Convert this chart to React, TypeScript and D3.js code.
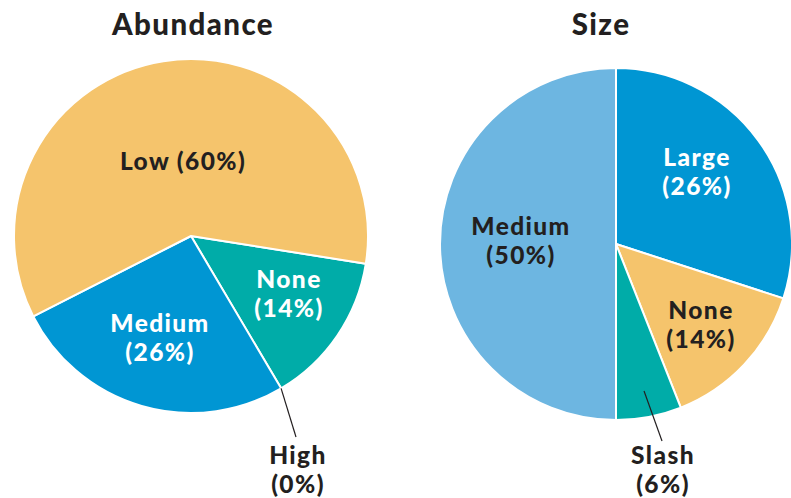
import React from "react";
import * as d3 from "d3";

// ---- data ----
const abundanceCategories = ["None", "High", "Medium", "Low"];
const abundanceValues = [14, 0, 26, 60];
const abundanceLabels = ["(14%)", "(0%)", "(26%)", "(60%)"];

const sizeCategories = ["Large", "None", "Slash", "Medium"];
const sizeValues = [30, 14, 6, 50];
const sizeLabels = ["(26%)", "(14%)", "(6%)", "(50%)"];

const titles = ["Abundance", "Size"];

// ---- styles ----
const YELLOW = "#F5C46C";
const BLUE = "#0096D3";
const TEAL = "#00ACA8";
const LIGHTBLUE = "#6DB6E1";
const DARK = "#231F20";

const abundanceColors = [TEAL, BLUE, BLUE, YELLOW];
const abundanceText = ["#fff", DARK, "#fff", DARK];
const sizeColors = [BLUE, YELLOW, TEAL, LIGHTBLUE];
const sizeText = ["#fff", DARK, DARK, DARK];

const FONT = "Lato, 'Open Sans', sans-serif";
const LABEL_SIZE = 24.5;
const LINE_GAP = 29;
const LETTER = 1.4;

type LabelCfg = {
  pos: [number, number]; // first-line baseline, relative to pie centre
  oneLine?: boolean;
  leader?: { from: number; to: [number, number] };
};

function Pie(props: {
  cx: number; cy: number; r: number; startDeg: number;
  cats: string[]; values: number[]; pct: string[];
  colors: string[]; textColors: string[]; cfg: LabelCfg[];
}) {
  const { cx, cy, r, startDeg, cats, values, pct, colors, textColors, cfg } = props;
  const start = (startDeg * Math.PI) / 180;
  const pie = d3.pie<number>().sort(null).value((d) => d)
    .startAngle(start).endAngle(start + 2 * Math.PI);
  const arcs = pie(values);
  const arc = d3.arc<d3.PieArcDatum<number>>().innerRadius(0).outerRadius(r);
  return (
    <g transform={`translate(${cx},${cy})`}>
      {arcs.map((a, i) =>
        a.endAngle > a.startAngle ? (
          <path key={i} d={arc(a) || ""} fill={colors[i]} stroke="#fff" strokeWidth={2} strokeLinejoin="round" />
        ) : null
      )}
      {arcs.map((a, i) => {
        const c = cfg[i];
        const mid = (a.startAngle + a.endAngle) / 2;
        const [x, y] = c.pos;
        const fill = c.leader ? DARK : textColors[i];
        return (
          <g key={"l" + i}>
            {c.leader ? (
              <line x1={Math.sin(mid) * r * c.leader.from} y1={-Math.cos(mid) * r * c.leader.from}
                x2={c.leader.to[0]} y2={c.leader.to[1]} stroke={DARK} strokeWidth={1.2} />
            ) : null}
            {c.oneLine ? (
              <text x={x} y={y} textAnchor="middle" fill={fill} fontFamily={FONT} fontWeight={900}
                fontSize={LABEL_SIZE} letterSpacing={LETTER}>
                {cats[i] + " " + pct[i]}
              </text>
            ) : (
              <text x={x} y={y} textAnchor="middle" fill={fill} fontFamily={FONT} fontWeight={900}
                fontSize={LABEL_SIZE} letterSpacing={LETTER}>
                <tspan x={x} dy={0}>{cats[i]}</tspan>
                <tspan x={x} dy={LINE_GAP}>{pct[i]}</tspan>
              </text>
            )}
          </g>
        );
      })}
    </g>
  );
}

export default function App() {
  const W = 791, H = 498;
  const leftCx = 191, leftCy = 236, leftR = 177;
  const rightCx = 616, rightCy = 244, rightR = 176;
  // start angles (degrees clockwise from 12 o'clock)
  const leftStart = 99;
  const rightStart = 0;

  const leftCfg: LabelCfg[] = [
    { pos: [98, 52] },
    { pos: [107, 228], leader: { from: 1, to: [105, 201] } },
    { pos: [-31, 96] },
    { pos: [-8, -66], oneLine: true },
  ];
  const rightCfg: LabelCfg[] = [
    { pos: [81, -78] },
    { pos: [85, 75] },
    { pos: [47, 220], leader: { from: 0.85, to: [46, 197] } },
    { pos: [-95, -9] },
  ];

  return (
    <svg width={W} height={H} style={{ position: "absolute", left: 0, top: 0, background: "#fff" }}>
      <text x={193} y={35} textAnchor="middle" fontFamily={FONT} fontWeight={900} fontSize={29.5}
        letterSpacing={1.4} fill={DARK}>
        {titles[0]}
      </text>
      <text x={601} y={35} textAnchor="middle" fontFamily={FONT} fontWeight={900} fontSize={29.5}
        letterSpacing={1.4} fill={DARK}>
        {titles[1]}
      </text>
      <Pie cx={leftCx} cy={leftCy} r={leftR} startDeg={leftStart}
        cats={abundanceCategories} values={abundanceValues} pct={abundanceLabels}
        colors={abundanceColors} textColors={abundanceText} cfg={leftCfg} />
      <Pie cx={rightCx} cy={rightCy} r={rightR} startDeg={rightStart}
        cats={sizeCategories} values={sizeValues} pct={sizeLabels}
        colors={sizeColors} textColors={sizeText} cfg={rightCfg} />
    </svg>
  );
}
